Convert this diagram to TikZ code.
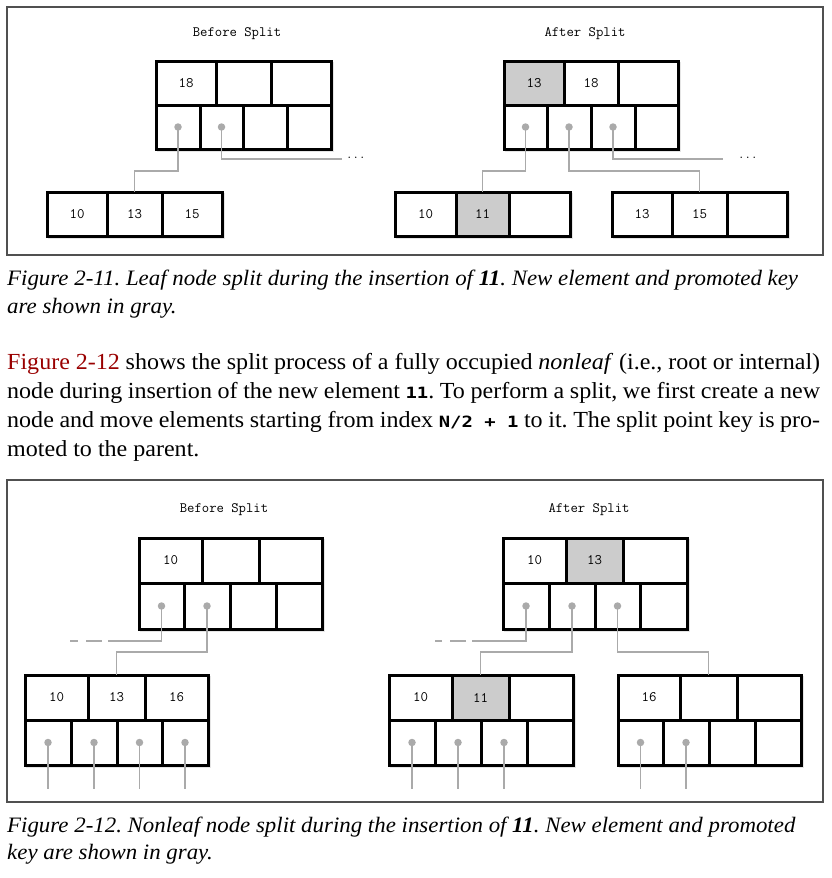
\documentclass[tikz,border=0pt]{standalone}
\usepackage{fontspec}
\setmainfont{Liberation Serif}
\newfontfamily\capfont{Liberation Serif}[FakeStretch=1.04]
\newfontfamily\bodyfont{Liberation Serif}[FakeStretch=1.045]
\newfontfamily\codefont{DejaVu Sans Mono}[FakeStretch=1.22]
\usetikzlibrary{calc}
\definecolor{keygray}{HTML}{CCCCCC}
\definecolor{linkgray}{HTML}{AAAAAA}
\definecolor{figred}{HTML}{990000}
\definecolor{framegray}{HTML}{505050}
\newcommand\code[1]{\mbox{\upshape\codefont\bfseries\fontsize{15.5}{24}\selectfont #1}}
\newcommand\capcode[1]{\textbf{#1}}
\newcommand\Cell[7][]{\node[cellst,#1,minimum width={(#5-#3)*1pt},minimum height={(#6-#4)*1pt}] (#2) at ({(#3+#5)/2},{(#4+#6)/2}) {#7};}
\newcommand\Shade[4]{\fill[black,opacity=0.10] ({#1+1},{#2+1}) rectangle ({#3+3},{#4+3});\fill[black,opacity=0.10] ({#1+1},{#2+1}) rectangle ({#3+1.8},{#4+1.8});}
\tikzset{
  cellst/.style={draw=black, fill=white, line width=3pt, inner sep=0pt, outer sep=0pt,
    font=\ttfamily\fontsize{14.5}{16}\selectfont},
  graycell/.style={fill=keygray},
  dotst/.style={circle, fill=linkgray, inner sep=0pt, minimum size=7.5pt},
  link/.style={draw=linkgray, line width=1.5pt},
  fade/.style={link, dash pattern=on 89pt off 6pt on 16pt off 8pt on 8pt off 80pt},
  title/.style={font=\ttfamily\fontsize{14.3}{16}\selectfont, inner sep=0pt, anchor=base},
  more/.style={font=\ttfamily\fontsize{12.5}{14}\selectfont, inner sep=0pt, anchor=base west},
  frame/.style={draw=framegray, line width=1.2pt},
  captext/.style={font=\capfont\fontsize{22}{26}\selectfont\itshape, inner sep=0pt, anchor=base west},
  bodytext/.style={font=\bodyfont\fontsize{23}{27}\selectfont, inner sep=0pt, anchor=base west}
}
\begin{document}
\frenchspacing
\begin{tikzpicture}[x=1pt,y=-1pt]
\useasboundingbox (0,0) rectangle (831,878);
% ================= Figure 2-11 =================
\draw[frame] (7,7) rectangle (823,255);
\node[title] (t1b) at (237,36) {Before Split};
\node[title] (t1a) at (585,36) {After Split};
% before: top node
\Shade{156}{61}{331}{149}
\Cell{b1t1}{156}{61}{216}{105}{18}
\Cell{b1t2}{216}{61}{271}{105}{}
\Cell{b1t3}{271}{61}{331}{105}{}
\Cell{b1b1}{156}{105}{200}{149}{}
\Cell{b1b2}{200}{105}{243}{149}{}
\Cell{b1b3}{243}{105}{287}{149}{}
\Cell{b1b4}{287}{105}{331}{149}{}
% before: leaf
\Shade{47}{192}{222}{236}
\Cell{b1l1}{47}{192}{107}{236}{10}
\Cell{b1l2}{107}{192}{162}{236}{13}
\Cell{b1l3}{162}{192}{222}{236}{15}
\coordinate (f1mid) at (0,171);
\coordinate (b1end) at (342,159);
\draw[link] (b1b1.center) -- (b1b1.center |- f1mid) -| (b1l2.north);
\draw[link] (b1b2.center) |- (b1end);
\node[dotst] (b1d1) at (b1b1.center) {};
\node[dotst] (b1d2) at (b1b2.center) {};
\node[more] (b1more) at (346,158) {...};
% after: top node
\Shade{504}{61}{678}{149}
\Cell[graycell]{a1t1}{504}{61}{564}{105}{13}
\Cell{a1t2}{564}{61}{618}{105}{18}
\Cell{a1t3}{618}{61}{678}{105}{}
\Cell{a1b1}{504}{105}{547}{149}{}
\Cell{a1b2}{547}{105}{591}{149}{}
\Cell{a1b3}{591}{105}{635}{149}{}
\Cell{a1b4}{635}{105}{678}{149}{}
% after: leaves
\Shade{395}{192}{570}{236}
\Cell{a1l1}{395}{192}{456}{236}{10}
\Cell[graycell]{a1l2}{456}{192}{509}{236}{11}
\Cell{a1l3}{509}{192}{570}{236}{}
\Shade{612}{192}{787}{236}
\Cell{a1r1}{612}{192}{672}{236}{13}
\Cell{a1r2}{672}{192}{727}{236}{15}
\Cell{a1r3}{727}{192}{787}{236}{}
\coordinate (a1end) at (723,159);
\draw[link] (a1b1.center) -- (a1b1.center |- f1mid) -| (a1l2.north);
\draw[link] (a1b2.center) -- (a1b2.center |- f1mid) -| (a1r2.north);
\draw[link] (a1b3.center) |- (a1end);
\node[dotst] (a1d1) at (a1b1.center) {};
\node[dotst] (a1d2) at (a1b2.center) {};
\node[dotst] (a1d3) at (a1b3.center) {};
\node[more] (a1more) at (738,158) {...};
% ================= captions and text =================
\node[captext] (cap1a) at (7,285) {Figure 2-11. Leaf node split during the insertion of \capcode{11}. New element and promoted key};
\node[captext] (cap1b) at (7,313) {are shown in gray.};
\node[bodytext] (par1) at (7,369) {\makebox[813pt][s]{{\color{figred}Figure 2-12} shows the split process of a fully occupied \textit{nonleaf} (i.e., root or internal)}};
\node[bodytext] (par2) at (7,398) {\makebox[813pt][s]{node during insertion of the new element \code{11}. To perform a split, we first create a new}};
\node[bodytext] (par3) at (7,427) {\makebox[813pt][s]{node and move elements starting from index \code{N/2 + 1} to it. The split point key is pro-}};
\node[bodytext] (par4) at (7,456) {moted to the parent.};
% ================= Figure 2-12 =================
\draw[frame] (7,480) rectangle (823,802);
\node[title] (t2b) at (224,512) {Before Split};
\node[title] (t2a) at (589,512) {After Split};
% before: top node
\Shade{139}{538}{322}{629}
\Cell{b2t1}{139}{538}{202}{583}{10}
\Cell{b2t2}{202}{538}{259}{583}{}
\Cell{b2t3}{259}{538}{322}{583}{}
\Cell{b2b1}{139}{583}{184}{629}{}
\Cell{b2b2}{184}{583}{230}{629}{}
\Cell{b2b3}{230}{583}{276}{629}{}
\Cell{b2b4}{276}{583}{322}{629}{}
% before: child
\Shade{25}{675}{208}{765}
\Cell{b2c1}{25}{675}{88}{720}{10}
\Cell{b2c2}{88}{675}{145}{720}{13}
\Cell{b2c3}{145}{675}{208}{720}{16}
\Cell{b2p1}{25}{720}{71}{765}{}
\Cell{b2p2}{71}{720}{117}{765}{}
\Cell{b2p3}{117}{720}{162}{765}{}
\Cell{b2p4}{162}{720}{208}{765}{}
\coordinate (f2mid) at (0,652);
\coordinate (f2bot) at (0,789);
\coordinate (b2fadeend) at (70,641);
\draw[fade] (b2b1.center) |- (b2fadeend);
\draw[link] (b2b2.center) -- (b2b2.center |- f2mid) -| (b2c2.north);
\foreach \c in {1,2,3,4}{\draw[link] (b2p\c.center) -- (b2p\c.center |- f2bot);}
\node[dotst] (b2d1) at (b2b1.center) {};
\node[dotst] (b2d2) at (b2b2.center) {};
\foreach \c in {1,2,3,4}{\node[dotst] (b2e\c) at (b2p\c.center) {};}
% after: top node
\Shade{503}{538}{687}{629}
\Cell{a2t1}{503}{538}{566}{583}{10}
\Cell[graycell]{a2t2}{566}{538}{623}{583}{13}
\Cell{a2t3}{623}{538}{687}{583}{}
\Cell{a2b1}{503}{583}{549}{629}{}
\Cell{a2b2}{549}{583}{595}{629}{}
\Cell{a2b3}{595}{583}{640}{629}{}
\Cell{a2b4}{640}{583}{687}{629}{}
% after: left child
\Shade{389}{675}{573}{765}
\Cell{a2c1}{389}{675}{452}{720}{10}
\Cell[graycell]{a2c2}{452}{675}{509}{720}{11}
\Cell{a2c3}{509}{675}{573}{720}{}
\Cell{a2p1}{389}{720}{435}{765}{}
\Cell{a2p2}{435}{720}{481}{765}{}
\Cell{a2p3}{481}{720}{527}{765}{}
\Cell{a2p4}{527}{720}{573}{765}{}
% after: right child
\Shade{618}{675}{801}{765}
\Cell{a2r1}{618}{675}{680}{720}{16}
\Cell{a2r2}{680}{675}{737}{720}{}
\Cell{a2r3}{737}{675}{801}{720}{}
\Cell{a2q1}{618}{720}{663}{765}{}
\Cell{a2q2}{663}{720}{709}{765}{}
\Cell{a2q3}{709}{720}{755}{765}{}
\Cell{a2q4}{755}{720}{801}{765}{}
\coordinate (a2fadeend) at (435,641);
\draw[fade] (a2b1.center) |- (a2fadeend);
\draw[link] (a2b2.center) -- (a2b2.center |- f2mid) -| (a2c2.north);
\draw[link] (a2b3.center) -- (a2b3.center |- f2mid) -| (a2r2.north);
\foreach \c in {1,2,3}{\draw[link] (a2p\c.center) -- (a2p\c.center |- f2bot);}
\foreach \c in {1,2}{\draw[link] (a2q\c.center) -- (a2q\c.center |- f2bot);}
\node[dotst] (a2d1) at (a2b1.center) {};
\node[dotst] (a2d2) at (a2b2.center) {};
\node[dotst] (a2d3) at (a2b3.center) {};
\foreach \c in {1,2,3}{\node[dotst] (a2e\c) at (a2p\c.center) {};}
\foreach \c in {1,2}{\node[dotst] (a2f\c) at (a2q\c.center) {};}
% caption 2
\node[captext] (cap2a) at (7,832) {Figure 2-12. Nonleaf node split during the insertion of \capcode{11}. New element and promoted};
\node[captext] (cap2b) at (7,859) {key are shown in gray.};
\end{tikzpicture}
\end{document}
